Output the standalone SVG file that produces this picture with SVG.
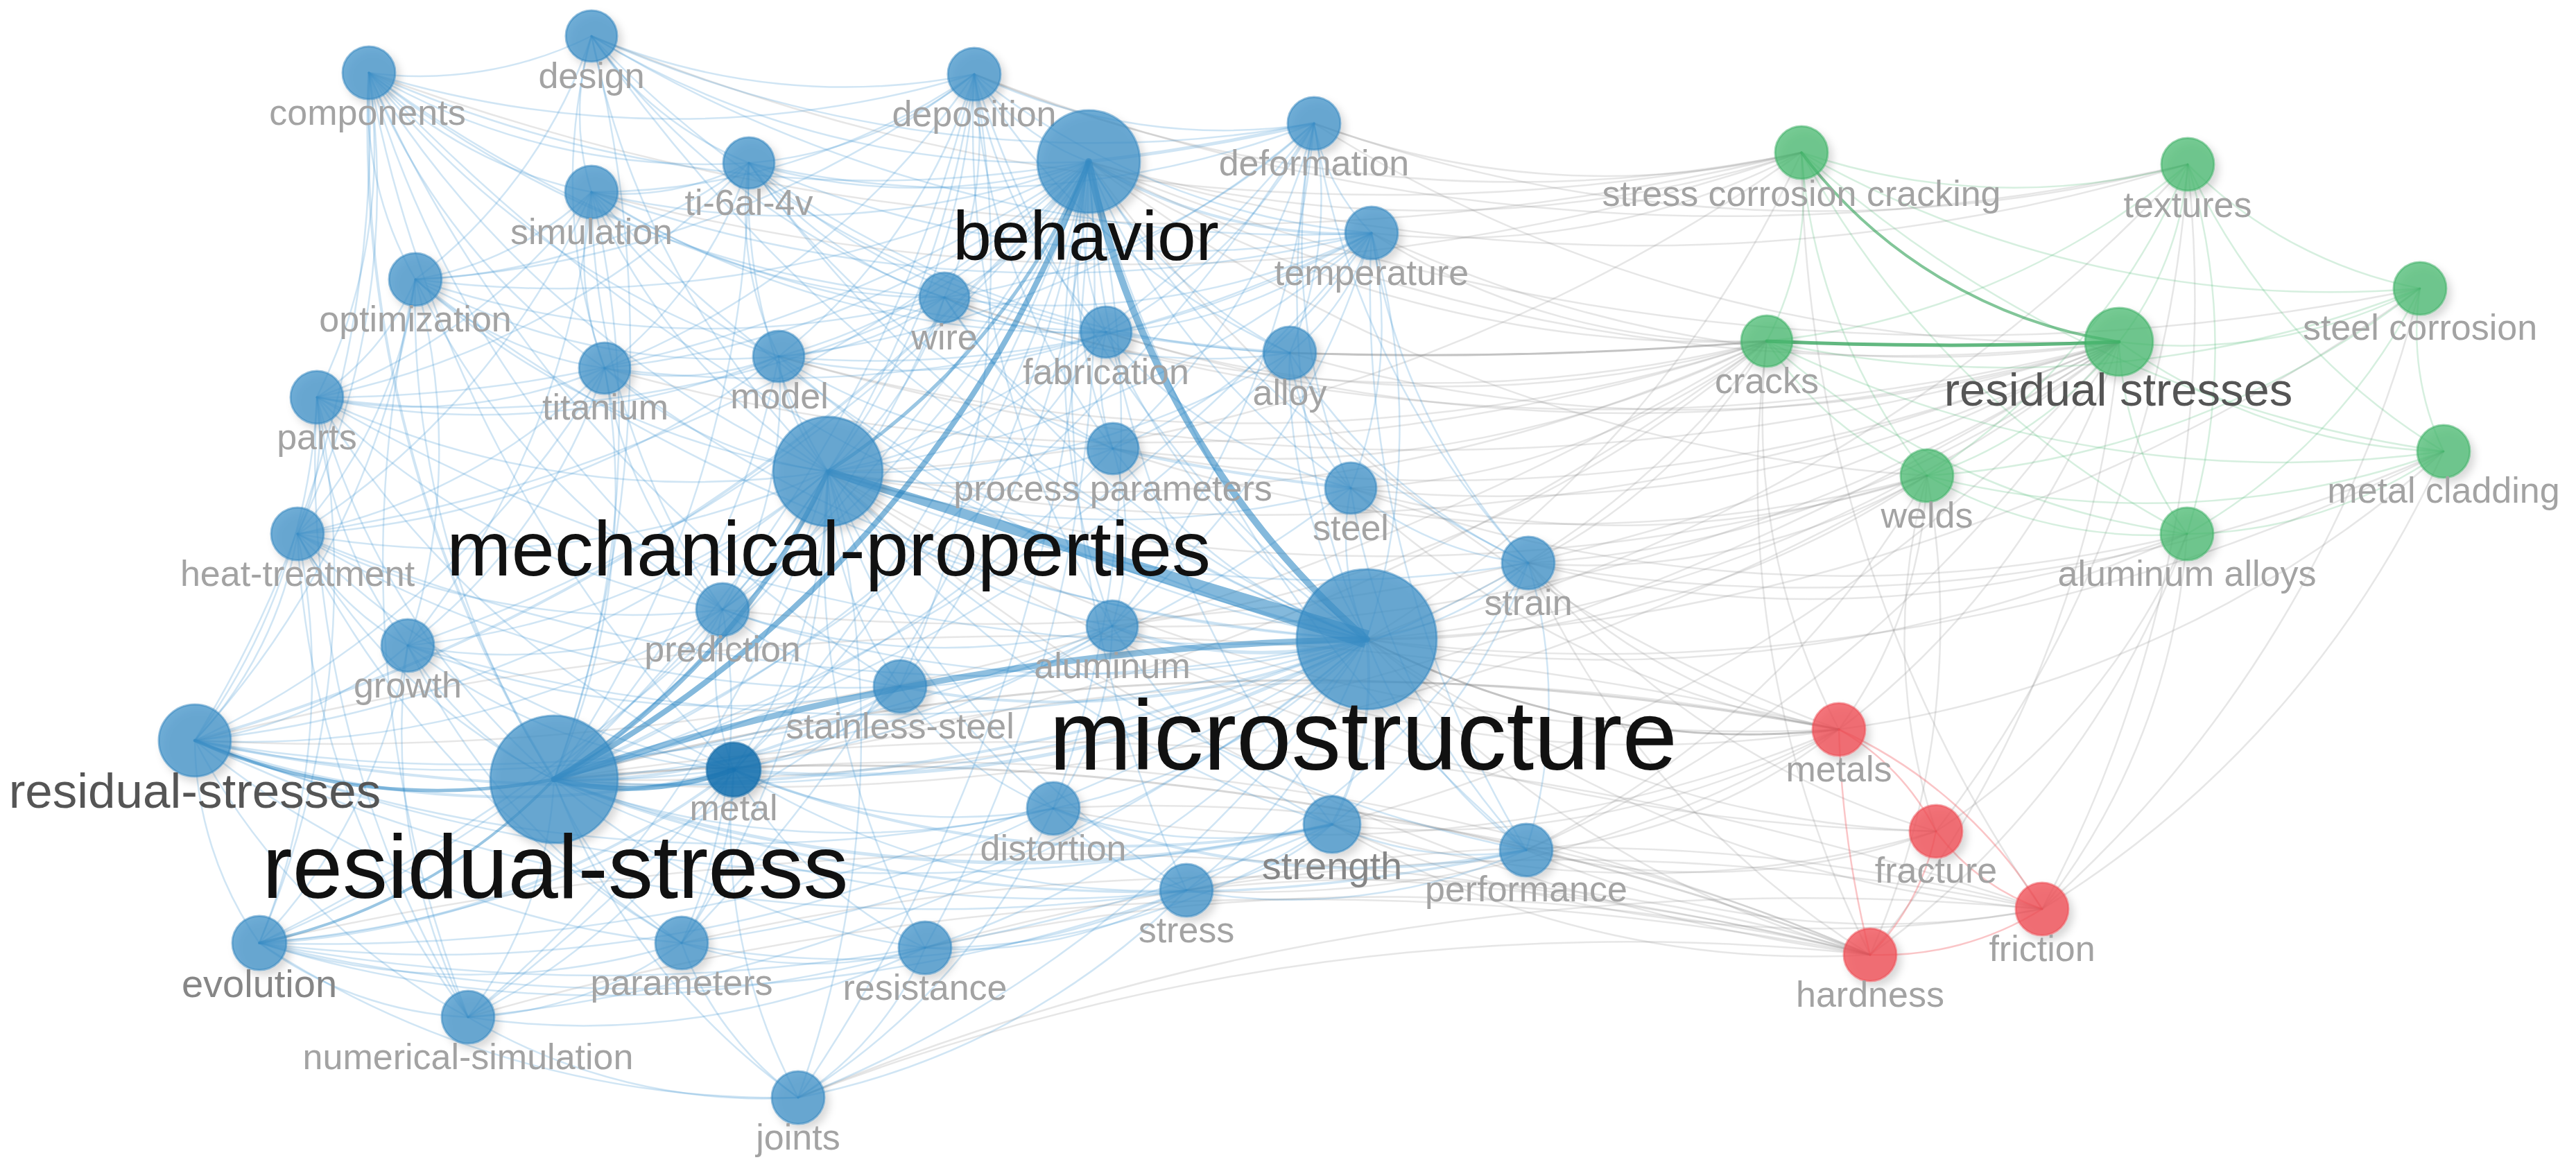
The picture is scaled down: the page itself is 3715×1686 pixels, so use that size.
<svg xmlns="http://www.w3.org/2000/svg" width="3715" height="1686" viewBox="0 0 3715 1686">
<style>
.e{fill:none;stroke-linecap:round}
.eb{stroke:#3a93cf;stroke-opacity:.24;stroke-width:2.5}
.eh{stroke:#1f80c0;stroke-opacity:.55}
.ew{fill:#1f80c0;fill-opacity:.55;stroke:none}
.eg{stroke:#8f8f8f;stroke-opacity:.22;stroke-width:2.5}
.egd{stroke:#7a7a7a;stroke-opacity:.45;stroke-width:3}
.en{stroke:#45b86c;stroke-opacity:.22;stroke-width:2.5}
.enh{stroke:#2ea055;stroke-opacity:.75}
.er{stroke:#f0585f;stroke-opacity:.35;stroke-width:2.5}
.nb circle{fill:#3d90c8;fill-opacity:.74;stroke:#2f84bd;stroke-opacity:.5;stroke-width:3;filter:url(#sh)}
.nd circle{fill:#1a73b0;fill-opacity:.88;stroke:#1a6ea8;stroke-opacity:.6;stroke-width:3;filter:url(#sh)}
.ng circle{fill:#46b96e;fill-opacity:.74;stroke:#3aae62;stroke-opacity:.5;stroke-width:3;filter:url(#sh)}
.nr circle{fill:#f04e55;fill-opacity:.78;stroke:#ee4a52;stroke-opacity:.5;stroke-width:3;filter:url(#sh)}
text{font-family:"Liberation Sans",Arial,Helvetica,sans-serif;text-anchor:middle}
.t1{font-size:52px;fill:#a3a3a3}
.t2{font-size:56px;fill:#868686}
.t3{fill:#555555}
.tb{fill:#111111}
</style>
<defs>
<filter id="sh" x="-40%" y="-40%" width="180%" height="180%">
<feDropShadow dx="6" dy="7" stdDeviation="6" flood-color="#000" flood-opacity="0.2"/>
</filter>
</defs>
<rect width="3715" height="1686" fill="#ffffff"/>
<g id="connectors">
<g class="e eg">
<path d="M1971 922A1600 1600 0 0 0 2598 220"/>
<path d="M1971 922A2325 2325 0 0 0 3155 237"/>
<path d="M1971 922A2720 2720 0 0 0 3490 416"/>
<path d="M1971 922A1225 1225 0 0 0 2548 492"/>
<path d="M1971 922A1985 1985 0 0 0 3056 493"/>
<path d="M1971 922A2680 2680 0 0 0 3524 651"/>
<path d="M1971 922A1430 1430 0 0 0 2779 686"/>
<path d="M1971 922A2030 2030 0 0 0 3154 770"/>
<path d="M1971 922A1475 1475 0 0 0 2792 1199"/>
<path d="M1971 922A1780 1780 0 0 0 2945 1311"/>
<path d="M1971 922A1455 1455 0 0 0 2697 1377"/>
<path d="M799 1124A3985 3985 0 0 0 3056 493"/>
<path d="M799 1124A3160 3160 0 0 0 2548 492"/>
<path d="M799 1124A4500 4500 0 0 1 2945 1311"/>
<path d="M799 1124A3450 3450 0 0 0 2779 686"/>
<path d="M1194 680A3180 3180 0 0 0 3056 493"/>
<path d="M1194 680A2325 2325 0 0 0 2548 492"/>
<path d="M1194 680A2510 2510 0 0 0 2598 220"/>
<path d="M1194 680A2560 2560 0 0 0 2652 1052"/>
<path d="M1194 680A2815 2815 0 0 0 2697 1377"/>
<path d="M1194 680A2695 2695 0 0 0 2779 686"/>
<path d="M1194 680A2855 2855 0 0 0 2792 1199"/>
<path d="M1570 233A1750 1750 0 0 0 2598 220"/>
<path d="M1570 233A2565 2565 0 0 0 3056 493"/>
<path d="M1570 233A1720 1720 0 0 0 2548 492"/>
<path d="M1570 233A2695 2695 0 0 0 3155 237"/>
<path d="M1570 233A2195 2195 0 0 0 2779 686"/>
<path d="M1570 233A2305 2305 0 0 0 2652 1052"/>
<path d="M1570 233A3280 3280 0 0 0 3490 416"/>
<path d="M1860 509A2035 2035 0 0 0 3056 493"/>
<path d="M1895 178A1200 1200 0 0 0 2598 220"/>
<path d="M1895 178A2145 2145 0 0 0 3155 237"/>
<path d="M1895 178A2045 2045 0 0 0 3056 493"/>
<path d="M1978 336A1070 1070 0 0 0 2598 220"/>
<path d="M1978 336A1005 1005 0 0 0 2548 492"/>
<path d="M1978 336A1850 1850 0 0 0 3056 493"/>
<path d="M2204 812A800 800 0 0 0 2548 492"/>
<path d="M2204 812A1545 1545 0 0 0 3056 493"/>
<path d="M2204 812A1000 1000 0 0 0 2779 686"/>
<path d="M2204 812A865 865 0 0 0 2652 1052"/>
<path d="M2204 812A1615 1615 0 0 0 3154 770"/>
<path d="M2204 812A1275 1275 0 0 0 2697 1377"/>
<path d="M2204 812A2260 2260 0 0 0 3524 651"/>
<path d="M2204 812A1195 1195 0 0 0 2792 1199"/>
<path d="M1948 704A1080 1080 0 0 0 2548 492"/>
<path d="M1948 704A1915 1915 0 0 0 3056 493"/>
<path d="M1948 704A1415 1415 0 0 0 2779 686"/>
<path d="M1948 704A1335 1335 0 0 0 2652 1052"/>
<path d="M1948 704A2055 2055 0 0 0 3154 770"/>
<path d="M2201 1226A820 820 0 0 0 2652 1052"/>
<path d="M2201 1226A1005 1005 0 0 0 2792 1199"/>
<path d="M2201 1226A1270 1270 0 0 0 2945 1311"/>
<path d="M2201 1226A1915 1915 0 0 0 3056 493"/>
<path d="M2201 1226A1345 1345 0 0 0 2779 686"/>
<path d="M1921 1189A1265 1265 0 0 0 2652 1052"/>
<path d="M1921 1189A1360 1360 0 0 0 2697 1377"/>
<path d="M1921 1189A1480 1480 0 0 0 2792 1199"/>
<path d="M1921 1189A1755 1755 0 0 0 2945 1311"/>
<path d="M1921 1189A2265 2265 0 0 0 3056 493"/>
<path d="M1711 1284A2400 2400 0 0 1 2697 1377"/>
<path d="M1711 1284A2600 2600 0 0 1 2945 1311"/>
<path d="M1711 1284A1650 1650 0 0 0 2652 1052"/>
<path d="M1519 1166A2600 2600 0 0 1 2697 1377"/>
<path d="M1519 1166A1935 1935 0 0 0 2652 1052"/>
<path d="M1604 903A1750 1750 0 0 0 2548 492"/>
<path d="M1604 903A2565 2565 0 0 0 3056 493"/>
<path d="M1604 903A1800 1800 0 0 0 2652 1052"/>
<path d="M1595 479A1620 1620 0 0 0 2548 492"/>
<path d="M1595 479A2485 2485 0 0 0 3056 493"/>
<path d="M1605 647A1625 1625 0 0 0 2548 492"/>
<path d="M1605 647A2480 2480 0 0 0 3056 493"/>
<path d="M1605 647A2000 2000 0 0 0 2779 686"/>
<path d="M1334 1367A3000 3000 0 0 1 2697 1377"/>
<path d="M1334 1367A3400 3400 0 0 1 2945 1311"/>
<path d="M1151 1583A3300 3300 0 0 1 2697 1377"/>
<path d="M1151 1583A3800 3800 0 0 1 2945 1311"/>
<path d="M1058 1110A3400 3400 0 0 1 2652 1052"/>
<path d="M1058 1110A3500 3500 0 0 1 2697 1377"/>
<path d="M983 1360A3600 3600 0 0 1 2697 1377"/>
<path d="M1362 429A2880 2880 0 0 0 3056 493"/>
<path d="M1362 429A2020 2020 0 0 0 2548 492"/>
<path d="M1123 514A2420 2420 0 0 0 2548 492"/>
<path d="M1123 514A3285 3285 0 0 0 3056 493"/>
<path d="M872 531A2850 2850 0 0 0 2548 492"/>
<path d="M1042 879A3485 3485 0 0 0 3056 493"/>
<path d="M853 277A2970 2970 0 0 0 2598 220"/>
<path d="M532 105A3520 3520 0 0 0 2598 220"/>
<path d="M1405 107A2035 2035 0 0 0 2598 220"/>
<path d="M1405 107A2985 2985 0 0 0 3155 237"/>
<path d="M853 52A2980 2980 0 0 0 2598 220"/>
<path d="M281 1068A3975 3975 0 0 0 2548 492"/>
<path d="M281 1068A5000 5000 0 0 1 2652 1052"/>
<path d="M374 1360A5000 5000 0 0 1 2697 1377"/>
<path d="M675 1467A4300 4300 0 0 1 2697 1377"/>
<path d="M2548 492A970 970 0 0 0 2652 1052"/>
<path d="M2652 1052A660 660 0 0 0 2779 686"/>
<path d="M2652 1052A1170 1170 0 0 0 3056 493"/>
<path d="M2792 1199A955 955 0 0 0 3154 770"/>
<path d="M2945 1311A985 985 0 0 0 3154 770"/>
<path d="M2697 1377A1290 1290 0 0 0 3154 770"/>
<path d="M2945 1311A1490 1490 0 0 0 3524 651"/>
<path d="M2697 1377A1180 1180 0 0 0 2779 686"/>
<path d="M2779 686A870 870 0 0 0 2792 1199"/>
<path d="M2945 1311A1780 1780 0 0 0 3490 416"/>
<path d="M2697 1377A1620 1620 0 0 0 3056 493"/>
<path d="M2548 492A1525 1525 0 0 0 2697 1377"/>
<path d="M2598 220A1945 1945 0 0 0 2945 1311"/>
<path d="M2792 1199A1750 1750 0 0 0 3155 237"/>
<path d="M2652 1052A1630 1630 0 0 0 3524 651"/>
<path d="M2945 1311A1860 1860 0 0 0 3155 237"/>
</g>
<g class="e egd">
<path d="M1971 922A1180 1180 0 0 0 2652 1052"/>
<path d="M1860 509A6000 6000 0 0 0 2548 492"/>
<path d="M799 1124A4200 4200 0 0 1 2652 1052" stroke-opacity=".3"/>
<path d="M799 1124A4200 4200 0 0 1 2697 1377" stroke-opacity=".3"/>
</g>
<g class="e eb">
<path d="M532 105A2800 2800 0 0 0 1971 922"/>
<path d="M853 52A2400 2400 0 0 0 1971 922"/>
<path d="M1405 107A1700 1700 0 0 0 1971 922"/>
<path d="M1895 178A1270 1270 0 0 0 1971 922"/>
<path d="M853 277A2200 2200 0 0 0 1971 922"/>
<path d="M1080 235A1900 1900 0 0 0 1971 922"/>
<path d="M1971 922A1000 1000 0 0 0 1978 336"/>
<path d="M599 403A2500 2500 0 0 0 1971 922"/>
<path d="M1362 429A1330 1330 0 0 0 1971 922"/>
<path d="M1595 479A990 990 0 0 0 1971 922"/>
<path d="M1860 509A730 730 0 0 0 1971 922"/>
<path d="M872 531A1980 1980 0 0 0 1971 922"/>
<path d="M1123 514A1600 1600 0 0 0 1971 922"/>
<path d="M457 573A2640 2640 0 0 0 1971 922"/>
<path d="M1605 647A780 780 0 0 0 1971 922"/>
<path d="M1948 704A370 370 0 0 0 1971 922"/>
<path d="M429 770A2630 2630 0 0 0 1971 922"/>
<path d="M1971 922A440 440 0 0 0 2204 812"/>
<path d="M588 931A2350 2350 0 0 0 1971 922"/>
<path d="M1042 879A1580 1580 0 0 0 1971 922"/>
<path d="M1604 903A620 620 0 0 0 1971 922" stroke-width="5"/>
<path d="M281 1068A2880 2880 0 0 0 1971 922" stroke-width="4"/>
<path d="M1298 990A1150 1150 0 0 0 1971 922" stroke-width="4"/>
<path d="M1058 1110A1580 1580 0 0 0 1971 922" stroke-width="5"/>
<path d="M1519 1166A870 870 0 0 0 1971 922"/>
<path d="M1921 1189A460 460 0 0 0 1971 922" stroke-width="4"/>
<path d="M1971 922A650 650 0 0 0 2201 1226"/>
<path d="M1711 1284A760 760 0 0 0 1971 922"/>
<path d="M374 1360A2800 2800 0 0 0 1971 922"/>
<path d="M983 1360A1840 1840 0 0 0 1971 922"/>
<path d="M1334 1367A1320 1320 0 0 0 1971 922"/>
<path d="M675 1467A2390 2390 0 0 0 1971 922"/>
<path d="M1151 1583A1790 1790 0 0 0 1971 922"/>
<path d="M532 105A1490 1490 0 0 0 1194 680"/>
<path d="M853 52A1215 1215 0 0 0 1194 680"/>
<path d="M1194 680A1040 1040 0 0 0 1405 107"/>
<path d="M1194 680A1465 1465 0 0 0 1895 178"/>
<path d="M853 277A900 900 0 0 0 1194 680"/>
<path d="M1080 235A780 780 0 0 0 1194 680"/>
<path d="M1194 680A1455 1455 0 0 0 1978 336"/>
<path d="M599 403A1115 1115 0 0 0 1194 680"/>
<path d="M1194 680A515 515 0 0 0 1362 429"/>
<path d="M1194 680A760 760 0 0 0 1595 479"/>
<path d="M1194 680A1170 1170 0 0 0 1860 509"/>
<path d="M872 531A600 600 0 0 0 1194 680"/>
<path d="M1123 514A310 310 0 0 0 1194 680"/>
<path d="M457 573A1265 1265 0 0 0 1194 680"/>
<path d="M1194 680A700 700 0 0 0 1605 647"/>
<path d="M1194 680A1280 1280 0 0 0 1948 704"/>
<path d="M429 770A1310 1310 0 0 0 1194 680"/>
<path d="M1194 680A1730 1730 0 0 0 2204 812"/>
<path d="M588 931A1115 1115 0 0 0 1194 680"/>
<path d="M1042 879A425 425 0 0 0 1194 680"/>
<path d="M1194 680A790 790 0 0 0 1604 903"/>
<path d="M281 1068A1690 1690 0 0 0 1194 680"/>
<path d="M1194 680A555 555 0 0 0 1298 990"/>
<path d="M1058 1110A770 770 0 0 0 1194 680"/>
<path d="M1194 680A990 990 0 0 0 1519 1166"/>
<path d="M1194 680A1510 1510 0 0 0 1921 1189"/>
<path d="M1194 680A1950 1950 0 0 0 2201 1226"/>
<path d="M1194 680A1350 1350 0 0 0 1711 1284"/>
<path d="M374 1360A1810 1810 0 0 0 1194 680"/>
<path d="M983 1360A1210 1210 0 0 0 1194 680"/>
<path d="M1194 680A1190 1190 0 0 0 1334 1367"/>
<path d="M675 1467A1600 1600 0 0 0 1194 680"/>
<path d="M1151 1583A1540 1540 0 0 0 1194 680"/>
<path d="M532 105A1790 1790 0 0 0 799 1124" stroke-width="4"/>
<path d="M799 1124A1825 1825 0 0 0 853 52"/>
<path d="M799 1124A2010 2010 0 0 0 1405 107"/>
<path d="M799 1124A2460 2460 0 0 0 1895 178"/>
<path d="M799 1124A1440 1440 0 0 0 853 277"/>
<path d="M799 1124A1585 1585 0 0 0 1080 235"/>
<path d="M799 1124A2410 2410 0 0 0 1978 336"/>
<path d="M599 403A1270 1270 0 0 0 799 1124"/>
<path d="M799 1124A1520 1520 0 0 0 1362 429"/>
<path d="M799 1124A1740 1740 0 0 0 1595 479"/>
<path d="M799 1124A2085 2085 0 0 0 1860 509"/>
<path d="M799 1124A1015 1015 0 0 0 872 531"/>
<path d="M799 1124A1175 1175 0 0 0 1123 514"/>
<path d="M457 573A1100 1100 0 0 0 799 1124"/>
<path d="M799 1124A1590 1590 0 0 0 1605 647"/>
<path d="M799 1124A2080 2080 0 0 0 1948 704"/>
<path d="M429 770A870 870 0 0 0 799 1124"/>
<path d="M799 1124A2450 2450 0 0 0 2204 812"/>
<path d="M588 931A490 490 0 0 0 799 1124"/>
<path d="M799 1124A590 590 0 0 0 1042 879"/>
<path d="M799 1124A1420 1420 0 0 0 1604 903"/>
<path d="M799 1124A880 880 0 0 0 1298 990" stroke-width="4"/>
<path d="M799 1124A1225 1225 0 0 0 1519 1166"/>
<path d="M799 1124A1910 1910 0 0 0 1921 1189" stroke-width="5"/>
<path d="M799 1124A2390 2390 0 0 0 2201 1226" stroke-width="3.5"/>
<path d="M799 1124A1575 1575 0 0 0 1711 1284"/>
<path d="M799 1124A510 510 0 0 0 983 1360"/>
<path d="M799 1124A1000 1000 0 0 0 1334 1367"/>
<path d="M675 1467A620 620 0 0 0 799 1124"/>
<path d="M799 1124A985 985 0 0 0 1151 1583"/>
<path d="M532 105A1780 1780 0 0 0 1570 233"/>
<path d="M853 52A1260 1260 0 0 0 1570 233"/>
<path d="M1405 107A355 355 0 0 0 1570 233"/>
<path d="M1570 233A3000 3000 0 0 0 1895 178" stroke-width="5"/>
<path d="M853 277A1220 1220 0 0 0 1570 233"/>
<path d="M1080 235A835 835 0 0 0 1570 233"/>
<path d="M1570 233A715 715 0 0 0 1978 336" stroke-width="4"/>
<path d="M599 403A1675 1675 0 0 0 1570 233"/>
<path d="M1362 429A485 485 0 0 0 1570 233"/>
<path d="M1570 233A420 420 0 0 0 1595 479"/>
<path d="M1570 233A680 680 0 0 0 1860 509"/>
<path d="M872 531A1290 1290 0 0 0 1570 233"/>
<path d="M1123 514A900 900 0 0 0 1570 233"/>
<path d="M457 573A1980 1980 0 0 0 1570 233"/>
<path d="M1570 233A705 705 0 0 0 1605 647"/>
<path d="M1570 233A1030 1030 0 0 0 1948 704"/>
<path d="M429 770A2145 2145 0 0 0 1570 233"/>
<path d="M1570 233A1460 1460 0 0 0 2204 812"/>
<path d="M588 931A2050 2050 0 0 0 1570 233"/>
<path d="M1042 879A1420 1420 0 0 0 1570 233"/>
<path d="M1570 233A1140 1140 0 0 0 1604 903"/>
<path d="M281 1068A2610 2610 0 0 0 1570 233" stroke-width="4"/>
<path d="M1298 990A1370 1370 0 0 0 1570 233"/>
<path d="M1058 1110A1725 1725 0 0 0 1570 233"/>
<path d="M1519 1166A1590 1590 0 0 0 1570 233"/>
<path d="M1570 233A1730 1730 0 0 0 1921 1189"/>
<path d="M1570 233A2000 2000 0 0 0 2201 1226"/>
<path d="M1570 233A1800 1800 0 0 0 1711 1284"/>
<path d="M374 1360A2795 2795 0 0 0 1570 233"/>
<path d="M983 1360A2160 2160 0 0 0 1570 233"/>
<path d="M1334 1367A1970 1970 0 0 0 1570 233"/>
<path d="M675 1467A2590 2590 0 0 0 1570 233"/>
<path d="M1151 1583A2400 2400 0 0 0 1570 233"/>
<path d="M281 1068A1690 1690 0 0 0 532 105"/>
<path d="M281 1068A895 895 0 0 0 457 573"/>
<path d="M281 1068A565 565 0 0 0 429 770"/>
<path d="M281 1068A1255 1255 0 0 0 599 403"/>
<path d="M281 1068A570 570 0 0 0 588 931"/>
<path d="M281 1068A1330 1330 0 0 0 1042 879"/>
<path d="M281 1068A1320 1320 0 0 0 1058 1110" stroke-width="4"/>
<path d="M281 1068A1735 1735 0 0 0 1298 990"/>
<path d="M281 1068A2110 2110 0 0 0 1519 1166"/>
<path d="M281 1068A2795 2795 0 0 0 1921 1189"/>
<path d="M281 1068A520 520 0 0 0 374 1360"/>
<path d="M281 1068A955 955 0 0 0 675 1467"/>
<path d="M281 1068A1290 1290 0 0 0 983 1360"/>
<path d="M281 1068A2265 2265 0 0 0 1604 903"/>
<path d="M281 1068A1360 1360 0 0 0 872 531"/>
<path d="M281 1068A2460 2460 0 0 0 1711 1284"/>
<path d="M374 1360A1240 1240 0 0 0 1058 1110" stroke-width="4"/>
<path d="M374 1360A1035 1035 0 0 0 983 1360"/>
<path d="M374 1360A545 545 0 0 0 675 1467"/>
<path d="M374 1360A1975 1975 0 0 0 1519 1166"/>
<path d="M374 1360A2645 2645 0 0 0 1921 1189"/>
<path d="M374 1360A2280 2280 0 0 0 1711 1284"/>
<path d="M374 1360A1690 1690 0 0 0 1298 990"/>
<path d="M374 1360A1010 1010 0 0 0 429 770"/>
<path d="M374 1360A1345 1345 0 0 0 457 573"/>
<path d="M374 1360A815 815 0 0 0 588 931"/>
<path d="M374 1360A1630 1630 0 0 0 1334 1367"/>
<path d="M374 1360A1375 1375 0 0 0 1151 1583"/>
<path d="M532 105A555 555 0 0 0 853 52"/>
<path d="M532 105A620 620 0 0 0 853 277"/>
<path d="M532 105A960 960 0 0 0 1080 235"/>
<path d="M532 105A1485 1485 0 0 0 1405 107"/>
<path d="M532 105A925 925 0 0 0 872 531"/>
<path d="M532 105A1220 1220 0 0 0 1123 514"/>
<path d="M532 105A1515 1515 0 0 0 1362 429"/>
<path d="M532 105A520 520 0 0 0 599 403"/>
<path d="M457 573A805 805 0 0 0 532 105"/>
<path d="M429 770A1145 1145 0 0 0 532 105"/>
<path d="M532 105A1575 1575 0 0 0 1042 879"/>
<path d="M532 105A1915 1915 0 0 0 1595 479"/>
<path d="M532 105A1990 1990 0 0 0 1298 990"/>
<path d="M532 105A1930 1930 0 0 0 1058 1110"/>
<path d="M853 52A945 945 0 0 0 1405 107"/>
<path d="M853 52A495 495 0 0 0 1080 235"/>
<path d="M853 52A380 380 0 0 0 853 277"/>
<path d="M853 52A1075 1075 0 0 0 1362 429"/>
<path d="M853 52A1455 1455 0 0 0 1595 479"/>
<path d="M853 52A1970 1970 0 0 0 1978 336"/>
<path d="M853 52A1785 1785 0 0 0 1895 178"/>
<path d="M853 52A815 815 0 0 0 872 531"/>
<path d="M599 403A735 735 0 0 0 853 52"/>
<path d="M1405 107A840 840 0 0 0 1895 178"/>
<path d="M853 277A980 980 0 0 0 1405 107"/>
<path d="M1080 235A595 595 0 0 0 1405 107"/>
<path d="M1362 429A550 550 0 0 0 1405 107"/>
<path d="M1405 107A710 710 0 0 0 1595 479"/>
<path d="M1405 107A1050 1050 0 0 0 1978 336"/>
<path d="M1405 107A1030 1030 0 0 0 1860 509"/>
<path d="M1123 514A840 840 0 0 0 1405 107"/>
<path d="M872 531A1160 1160 0 0 0 1405 107"/>
<path d="M599 403A1460 1460 0 0 0 1405 107"/>
<path d="M1042 879A1450 1450 0 0 0 1405 107"/>
<path d="M1405 107A980 980 0 0 0 1605 647"/>
<path d="M1405 107A1395 1395 0 0 0 1604 903"/>
<path d="M1298 990A1510 1510 0 0 0 1405 107"/>
<path d="M1895 178A305 305 0 0 0 1978 336"/>
<path d="M1595 479A720 720 0 0 0 1895 178"/>
<path d="M1860 509A565 565 0 0 0 1895 178"/>
<path d="M1895 178A900 900 0 0 0 1948 704"/>
<path d="M1362 429A1000 1000 0 0 0 1895 178"/>
<path d="M1123 514A1430 1430 0 0 0 1895 178"/>
<path d="M1895 178A1200 1200 0 0 0 2204 812"/>
<path d="M1605 647A940 940 0 0 0 1895 178"/>
<path d="M1080 235A1390 1390 0 0 0 1895 178"/>
<path d="M1604 903A1330 1330 0 0 0 1895 178"/>
<path d="M1595 479A695 695 0 0 0 1978 336"/>
<path d="M1860 509A355 355 0 0 0 1978 336"/>
<path d="M1362 429A1060 1060 0 0 0 1978 336"/>
<path d="M1123 514A1485 1485 0 0 0 1978 336"/>
<path d="M872 531A1910 1910 0 0 0 1978 336"/>
<path d="M1605 647A825 825 0 0 0 1978 336"/>
<path d="M1978 336A895 895 0 0 0 2204 812"/>
<path d="M1948 704A630 630 0 0 0 1978 336"/>
<path d="M853 277A1915 1915 0 0 0 1978 336"/>
<path d="M1080 235A1535 1535 0 0 0 1978 336"/>
<path d="M1604 903A1155 1155 0 0 0 1978 336"/>
<path d="M1978 336A1560 1560 0 0 0 2201 1226"/>
<path d="M853 277A390 390 0 0 0 1080 235"/>
<path d="M599 403A480 480 0 0 0 853 277"/>
<path d="M853 277A435 435 0 0 0 872 531"/>
<path d="M853 277A610 610 0 0 0 1123 514"/>
<path d="M457 573A840 840 0 0 0 853 277"/>
<path d="M429 770A1105 1105 0 0 0 853 277"/>
<path d="M853 277A900 900 0 0 0 1362 429"/>
<path d="M853 277A1070 1070 0 0 0 1042 879"/>
<path d="M588 931A1200 1200 0 0 0 853 277"/>
<path d="M853 277A1305 1305 0 0 0 1595 479"/>
<path d="M1080 235A580 580 0 0 0 1362 429"/>
<path d="M1080 235A480 480 0 0 0 1123 514"/>
<path d="M872 531A615 615 0 0 0 1080 235"/>
<path d="M599 403A865 865 0 0 0 1080 235"/>
<path d="M1080 235A970 970 0 0 0 1595 479"/>
<path d="M1080 235A1405 1405 0 0 0 1860 509"/>
<path d="M457 573A1205 1205 0 0 0 1080 235"/>
<path d="M1080 235A1135 1135 0 0 0 1605 647"/>
<path d="M599 403A510 510 0 0 0 872 531"/>
<path d="M599 403A910 910 0 0 0 1123 514"/>
<path d="M457 573A375 375 0 0 0 599 403"/>
<path d="M429 770A690 690 0 0 0 599 403"/>
<path d="M588 931A900 900 0 0 0 599 403"/>
<path d="M599 403A1105 1105 0 0 0 1042 879"/>
<path d="M599 403A1300 1300 0 0 0 1362 429"/>
<path d="M599 403A1810 1810 0 0 0 675 1467"/>
<path d="M457 573A710 710 0 0 0 872 531"/>
<path d="M457 573A1135 1135 0 0 0 1123 514"/>
<path d="M429 770A340 340 0 0 0 457 573"/>
<path d="M457 573A650 650 0 0 0 588 931"/>
<path d="M457 573A1120 1120 0 0 0 1042 879"/>
<path d="M457 573A1370 1370 0 0 0 1058 1110"/>
<path d="M457 573A1560 1560 0 0 0 1362 429"/>
<path d="M457 573A1565 1565 0 0 0 675 1467"/>
<path d="M429 770A855 855 0 0 0 872 531"/>
<path d="M429 770A385 385 0 0 0 588 931"/>
<path d="M429 770A1060 1060 0 0 0 1042 879"/>
<path d="M429 770A1215 1215 0 0 0 1058 1110"/>
<path d="M429 770A1255 1255 0 0 0 1123 514"/>
<path d="M429 770A1255 1255 0 0 0 675 1467"/>
<path d="M429 770A1525 1525 0 0 0 1298 990"/>
<path d="M429 770A1375 1375 0 0 0 983 1360"/>
<path d="M588 931A775 775 0 0 0 1042 879"/>
<path d="M588 931A855 855 0 0 0 1058 1110"/>
<path d="M588 931A835 835 0 0 0 872 531"/>
<path d="M588 931A925 925 0 0 0 675 1467"/>
<path d="M588 931A990 990 0 0 0 983 1360"/>
<path d="M588 931A1210 1210 0 0 0 1298 990"/>
<path d="M872 531A430 430 0 0 0 1123 514"/>
<path d="M872 531A660 660 0 0 0 1042 879"/>
<path d="M1123 514A430 430 0 0 0 1362 429"/>
<path d="M1123 514A805 805 0 0 0 1595 479"/>
<path d="M1123 514A850 850 0 0 0 1605 647"/>
<path d="M1042 879A635 635 0 0 0 1123 514"/>
<path d="M1362 429A405 405 0 0 0 1595 479"/>
<path d="M1362 429A860 860 0 0 0 1860 509"/>
<path d="M1362 429A555 555 0 0 0 1605 647"/>
<path d="M1595 479A3000 3000 0 0 0 1860 509" stroke-width="4"/>
<path d="M1595 479A290 290 0 0 0 1605 647"/>
<path d="M1595 479A710 710 0 0 0 1948 704"/>
<path d="M1860 509A365 365 0 0 0 1948 704"/>
<path d="M1860 509A780 780 0 0 0 2204 812"/>
<path d="M1605 647A3000 3000 0 0 0 1948 704" stroke-width="4"/>
<path d="M1604 903A435 435 0 0 0 1605 647"/>
<path d="M1948 704A470 470 0 0 0 2204 812"/>
<path d="M1948 704A985 985 0 0 0 2201 1226"/>
<path d="M1042 879A475 475 0 0 0 1298 990"/>
<path d="M1042 879A395 395 0 0 0 1058 1110"/>
<path d="M1042 879A955 955 0 0 0 1604 903"/>
<path d="M983 1360A825 825 0 0 0 1042 879"/>
<path d="M1604 903A725 725 0 0 0 1921 1189"/>
<path d="M1519 1166A470 470 0 0 0 1604 903"/>
<path d="M1298 990A480 480 0 0 0 1519 1166"/>
<path d="M1298 990A540 540 0 0 0 1604 903"/>
<path d="M1058 1110A455 455 0 0 0 1298 990"/>
<path d="M1058 1110A790 790 0 0 0 1519 1166"/>
<path d="M1058 1110A1475 1475 0 0 0 1921 1189" stroke-width="4"/>
<path d="M983 1360A445 445 0 0 0 1058 1110"/>
<path d="M1058 1110A640 640 0 0 0 1334 1367"/>
<path d="M1058 1110A1150 1150 0 0 0 1711 1284"/>
<path d="M1519 1166A685 685 0 0 0 1921 1189"/>
<path d="M1519 1166A385 385 0 0 0 1711 1284"/>
<path d="M1519 1166A1165 1165 0 0 0 2201 1226" stroke-width="4"/>
<path d="M1921 1189A480 480 0 0 0 2201 1226"/>
<path d="M1711 1284A390 390 0 0 0 1921 1189"/>
<path d="M1711 1284A840 840 0 0 0 2201 1226"/>
<path d="M1334 1367A655 655 0 0 0 1711 1284"/>
<path d="M1334 1367A1045 1045 0 0 0 1921 1189"/>
<path d="M983 1360A600 600 0 0 0 1334 1367"/>
<path d="M983 1360A1245 1245 0 0 0 1711 1284"/>
<path d="M675 1467A555 555 0 0 0 983 1360"/>
<path d="M675 1467A835 835 0 0 0 1151 1583"/>
<path d="M675 1467A1135 1135 0 0 0 1334 1367"/>
<path d="M983 1360A475 475 0 0 0 1151 1583"/>
<path d="M1151 1583A480 480 0 0 0 1334 1367"/>
<path d="M1151 1583A1080 1080 0 0 0 1711 1284"/>
<path d="M1151 1583A945 945 0 0 0 1519 1166"/>
<path d="M1058 1110A820 820 0 0 0 1151 1583"/>
<path d="M675 1467A890 890 0 0 0 1058 1110"/>
<path d="M2201 1226A705 705 0 0 0 2204 812"/>
<path d="M1921 1189A800 800 0 0 0 2204 812"/>
<path d="M1711 1284A1160 1160 0 0 0 2204 812"/>
</g>
<g class="e eh">
<path class="ew" d="M1195.5 675.2L1974.9 909.6L1967.1 934.4L1192.5 684.8Z"/>
<path d="M1570 233A1250 1250 0 0 0 1971 922" stroke-width="10"/>
<path d="M799 1124A1650 1650 0 0 0 1570 233" stroke-width="8"/>
<path d="M799 1124A3900 3900 0 0 1 1971 922" stroke-width="9" stroke-opacity=".5"/>
<path d="M799 1124A1010 1010 0 0 0 1194 680" stroke-width="7" stroke-opacity=".5"/>
<path d="M1194 680A990 990 0 0 0 1570 233" stroke-width="5" stroke-opacity=".45"/>
<path d="M799 1124A440 440 0 0 0 1058 1110" stroke-width="7"/>
<path d="M281 1068A885 885 0 0 0 799 1124" stroke-width="5" stroke-opacity=".5"/>
<path d="M374 1360A825 825 0 0 0 799 1124" stroke-width="4" stroke-opacity=".45"/>
</g>
<g class="e en">
<path d="M2598 220A950 950 0 0 0 3155 237"/>
<path d="M2548 492A470 470 0 0 0 2598 220"/>
<path d="M2598 220A1550 1550 0 0 0 3490 416"/>
<path d="M2598 220A850 850 0 0 0 2779 686"/>
<path d="M2598 220A1330 1330 0 0 0 3154 770"/>
<path d="M2598 220A1735 1735 0 0 0 3524 651"/>
<path d="M2548 492A1120 1120 0 0 0 3155 237"/>
<path d="M2548 492A1605 1605 0 0 0 3490 416"/>
<path d="M2548 492A510 510 0 0 0 2779 686"/>
<path d="M2548 492A1135 1135 0 0 0 3154 770"/>
<path d="M2548 492A1680 1680 0 0 0 3524 651"/>
<path d="M3056 493A470 470 0 0 0 3155 237"/>
<path d="M3056 493A750 750 0 0 0 3490 416"/>
<path d="M3056 493A840 840 0 0 0 3524 651"/>
<path d="M2779 686A575 575 0 0 0 3056 493"/>
<path d="M3056 493A500 500 0 0 0 3154 770"/>
<path d="M3155 237A645 645 0 0 0 3490 416"/>
<path d="M3154 770A905 905 0 0 0 3155 237"/>
<path d="M3155 237A945 945 0 0 0 3524 651"/>
<path d="M2779 686A995 995 0 0 0 3155 237"/>
<path d="M3490 416A405 405 0 0 0 3524 651"/>
<path d="M3154 770A830 830 0 0 0 3490 416"/>
<path d="M2779 686A1290 1290 0 0 0 3490 416"/>
<path d="M2779 686A1270 1270 0 0 0 3524 651"/>
<path d="M2779 686A655 655 0 0 0 3154 770"/>
<path d="M3154 770A660 660 0 0 0 3524 651"/>
</g>
<g class="e enh">
<path d="M2548 492A6000 6000 0 0 0 3056 493" stroke-width="5"/>
<path d="M2598 220A700 700 0 0 0 3056 493" stroke-width="4" stroke-opacity=".6"/>
</g>
<g class="e er">
<path d="M2652 1052A345 345 0 0 1 2792 1199"/>
<path d="M2652 1052A665 665 0 0 1 2945 1311"/>
<path d="M2652 1052A1500 1500 0 0 0 2697 1377"/>
<path d="M2792 1199A320 320 0 0 0 2945 1311"/>
<path d="M2697 1377A435 435 0 0 0 2945 1311"/>
<path d="M2697 1377A345 345 0 0 0 2792 1199"/>
</g>
</g>
<g id="nodes">
<g id="n-components" class="nb"><circle cx="532" cy="105" r="38"/><text class="t1" x="530" y="180">components</text></g>
<g id="n-design" class="nb"><circle cx="853" cy="52" r="37"/><text class="t1" x="853" y="127">design</text></g>
<g id="n-deposition" class="nb"><circle cx="1405" cy="107" r="38"/><text class="t1" x="1405" y="182">deposition</text></g>
<g id="n-deformation" class="nb"><circle cx="1895" cy="178" r="38"/><text class="t1" x="1895" y="253">deformation</text></g>
<g id="n-simulation" class="nb"><circle cx="853" cy="277" r="38"/><text class="t1" x="853" y="352">simulation</text></g>
<g id="n-ti-6al-4v" class="nb"><circle cx="1080" cy="235" r="37"/><text class="t1" x="1080" y="310">ti-6al-4v</text></g>
<g id="n-temperature" class="nb"><circle cx="1978" cy="336" r="38"/><text class="t1" x="1978" y="411">temperature</text></g>
<g id="n-optimization" class="nb"><circle cx="599" cy="403" r="38"/><text class="t1" x="599" y="478">optimization</text></g>
<g id="n-wire" class="nb"><circle cx="1362" cy="429" r="36"/><text class="t1" x="1362" y="504">wire</text></g>
<g id="n-fabrication" class="nb"><circle cx="1595" cy="479" r="37"/><text class="t1" x="1595" y="554">fabrication</text></g>
<g id="n-alloy" class="nb"><circle cx="1860" cy="509" r="38"/><text class="t1" x="1860" y="584">alloy</text></g>
<g id="n-titanium" class="nb"><circle cx="872" cy="531" r="37"/><text class="t1" x="873" y="605">titanium</text></g>
<g id="n-model" class="nb"><circle cx="1123" cy="514" r="37"/><text class="t1" x="1124" y="589">model</text></g>
<g id="n-parts" class="nb"><circle cx="457" cy="573" r="38"/><text class="t1" x="457" y="648">parts</text></g>
<g id="n-process-parameters" class="nb"><circle cx="1605" cy="647" r="37"/><text class="t1" x="1605" y="722">process parameters</text></g>
<g id="n-steel" class="nb"><circle cx="1948" cy="704" r="37"/><text class="t1" x="1948" y="779">steel</text></g>
<g id="n-heat-treatment" class="nb"><circle cx="429" cy="770" r="38"/><text class="t1" x="429" y="845">heat-treatment</text></g>
<g id="n-strain" class="nb"><circle cx="2204" cy="812" r="38"/><text class="t1" x="2204" y="887">strain</text></g>
<g id="n-growth" class="nb"><circle cx="588" cy="931" r="38"/><text class="t1" x="588" y="1006">growth</text></g>
<g id="n-prediction" class="nb"><circle cx="1042" cy="879" r="38"/><text class="t1" x="1042" y="954">prediction</text></g>
<g id="n-aluminum" class="nb"><circle cx="1604" cy="903" r="37"/><text class="t1" x="1604" y="978">aluminum</text></g>
<g id="n-stainless-steel" class="nb"><circle cx="1298" cy="990" r="38"/><text class="t1" x="1298" y="1065">stainless-steel</text></g>
<g id="n-metal" class="nd"><circle cx="1058" cy="1110" r="39"/><text class="t1" x="1058" y="1183">metal</text></g>
<g id="n-distortion" class="nb"><circle cx="1519" cy="1166" r="38"/><text class="t1" x="1519" y="1241">distortion</text></g>
<g id="n-strength" class="nb"><circle cx="1921" cy="1189" r="41"/><text class="t2" x="1921" y="1268">strength</text></g>
<g id="n-performance" class="nb"><circle cx="2201" cy="1226" r="38"/><text class="t1" x="2201" y="1300">performance</text></g>
<g id="n-stress" class="nb"><circle cx="1711" cy="1284" r="38"/><text class="t1" x="1711" y="1359">stress</text></g>
<g id="n-evolution" class="nb"><circle cx="374" cy="1360" r="39"/><text class="t2" x="374" y="1438">evolution</text></g>
<g id="n-parameters" class="nb"><circle cx="983" cy="1360" r="38"/><text class="t1" x="983" y="1435">parameters</text></g>
<g id="n-resistance" class="nb"><circle cx="1334" cy="1367" r="38"/><text class="t1" x="1334" y="1442">resistance</text></g>
<g id="n-numerical-simulation" class="nb"><circle cx="675" cy="1467" r="38"/><text class="t1" x="675" y="1542">numerical-simulation</text></g>
<g id="n-joints" class="nb"><circle cx="1151" cy="1583" r="38"/><text class="t1" x="1151" y="1658">joints</text></g>
<g id="n-stress-corrosion-cracking" class="ng"><circle cx="2598" cy="220" r="38"/><text class="t1" x="2598" y="297">stress corrosion cracking</text></g>
<g id="n-textures" class="ng"><circle cx="3155" cy="237" r="38"/><text class="t1" x="3155" y="313">textures</text></g>
<g id="n-steel-corrosion" class="ng"><circle cx="3490" cy="416" r="38"/><text class="t1" x="3490" y="490">steel corrosion</text></g>
<g id="n-cracks" class="ng"><circle cx="2548" cy="492" r="37"/><text class="t1" x="2548" y="567">cracks</text></g>
<g id="n-metal-cladding" class="ng"><circle cx="3524" cy="651" r="38"/><text class="t1" x="3524" y="725">metal cladding</text></g>
<g id="n-welds" class="ng"><circle cx="2779" cy="686" r="38"/><text class="t1" x="2779" y="761">welds</text></g>
<g id="n-aluminum-alloys" class="ng"><circle cx="3154" cy="770" r="38"/><text class="t1" x="3154" y="845">aluminum alloys</text></g>
<g id="n-residual-stresses-green" class="ng"><circle cx="3056" cy="493" r="49"/><text class="t3" x="3055" y="585" font-size="67">residual stresses</text></g>
<g id="n-metals" class="nr"><circle cx="2652" cy="1052" r="38"/><text class="t1" x="2652" y="1127">metals</text></g>
<g id="n-fracture" class="nr"><circle cx="2792" cy="1199" r="38"/><text class="t1" x="2792" y="1273">fracture</text></g>
<g id="n-friction" class="nr"><circle cx="2945" cy="1311" r="38"/><text class="t1" x="2945" y="1386">friction</text></g>
<g id="n-hardness" class="nr"><circle cx="2697" cy="1377" r="38"/><text class="t1" x="2697" y="1452">hardness</text></g>
<g id="n-residual-stresses" class="nb"><circle cx="281" cy="1068" r="52"/><text class="t3" x="281" y="1165" font-size="71">residual-stresses</text></g>
<g id="n-behavior" class="nb"><circle cx="1570" cy="233" r="74"/><text class="tb" x="1566" y="375" font-size="100">behavior</text></g>
<g id="n-mechanical-properties" class="nb"><circle cx="1194" cy="680" r="79"/><text class="tb" x="1195" y="830" font-size="112">mechanical-properties</text></g>
<g id="n-residual-stress" class="nb"><circle cx="799" cy="1124" r="92"/><text class="tb" x="801" y="1295" font-size="130">residual-stress</text></g>
<g id="n-microstructure" class="nb"><circle cx="1971" cy="922" r="101"/><text class="tb" x="1966" y="1110" font-size="143">microstructure</text></g>
</g>
</svg>
